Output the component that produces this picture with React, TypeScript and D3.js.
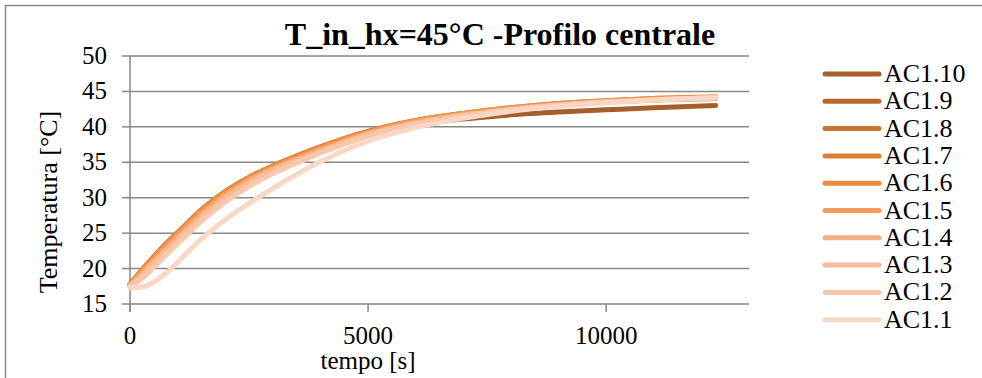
import React from 'react';
import * as d3 from 'd3';

// tempo [s]
const times = [0, 250, 500, 750, 1000, 1500, 2000, 2500, 3000, 3500, 4000, 5000, 6000, 7000, 8000, 9000, 10000, 11000, 12300];

// Temperature [°C] per sensor
const ac110 = [17.6, 19.5, 21.4, 23.1, 24.7, 27.9, 30.5, 32.5, 34.1, 35.5, 36.8, 38.9, 40.3, 41.1, 41.7, 42.1, 42.4, 42.7, 43.0];
const ac19 = [17.7, 19.6, 21.5, 23.3, 24.9, 28.1, 30.7, 32.7, 34.3, 35.7, 37.0, 39.2, 40.7, 41.7, 42.5, 43.1, 43.5, 43.8, 44.0];
const ac18 = [17.7, 19.7, 21.6, 23.4, 25.0, 28.2, 30.8, 32.8, 34.4, 35.8, 37.1, 39.3, 40.8, 41.8, 42.6, 43.2, 43.6, 43.9, 44.1];
const ac17 = [17.8, 19.8, 21.7, 23.5, 25.1, 28.3, 30.9, 32.9, 34.5, 35.9, 37.2, 39.4, 40.9, 41.9, 42.7, 43.3, 43.7, 44.0, 44.2];
const ac16 = [17.8, 19.7, 21.6, 23.4, 25.0, 28.2, 30.8, 32.8, 34.4, 35.8, 37.1, 39.3, 40.9, 41.9, 42.7, 43.3, 43.7, 44.0, 44.2];
const ac15 = [17.7, 19.5, 21.3, 23.1, 24.7, 27.9, 30.5, 32.6, 34.2, 35.6, 36.9, 39.2, 40.8, 41.8, 42.6, 43.2, 43.6, 43.9, 44.1];
const ac14 = [17.6, 19.2, 21.0, 22.7, 24.3, 27.5, 30.2, 32.3, 34.0, 35.4, 36.7, 39.0, 40.6, 41.7, 42.5, 43.1, 43.5, 43.8, 44.1];
const ac13 = [17.6, 19.0, 20.7, 22.4, 24.0, 27.2, 29.9, 32.1, 33.8, 35.2, 36.5, 38.9, 40.5, 41.6, 42.5, 43.1, 43.5, 43.8, 44.1];
const ac12 = [17.5, 18.6, 20.2, 21.9, 23.5, 26.7, 29.4, 31.6, 33.4, 34.9, 36.3, 38.7, 40.4, 41.5, 42.4, 43.0, 43.5, 43.8, 44.1];
const ac11 = [17.3, 17.4, 18.1, 19.3, 20.9, 24.2, 26.9, 29.2, 31.3, 33.3, 35.1, 38.0, 39.9, 41.2, 42.2, 42.9, 43.4, 43.8, 44.1];

const seriesNames = ['AC1.10', 'AC1.9', 'AC1.8', 'AC1.7', 'AC1.6', 'AC1.5', 'AC1.4', 'AC1.3', 'AC1.2', 'AC1.1'];
const seriesValues = [ac110, ac19, ac18, ac17, ac16, ac15, ac14, ac13, ac12, ac11];
const seriesColors = ['#a65f2a', '#b8682e', '#cb7430', '#de8034', '#ec8a3c', '#f49b5c', '#f6ae84', '#f8bc9a', '#f8c8ad', '#f8d7c5'];

const yTicks = [15, 20, 25, 30, 35, 40, 45, 50];
const xTicks = [0, 5000, 10000];

const W = 982;
const H = 378;
const serif = { fontFamily: "'Liberation Serif', 'DejaVu Serif', serif" };

export default function App() {
  const x = d3.scaleLinear().domain([0, 13000]).range([130, 749]);
  const y = d3.scaleLinear().domain([15, 50]).range([304, 56]);

  const line = d3.line<[number, number]>()
    .x(d => x(d[0]))
    .y(d => y(d[1]))
    .curve(d3.curveMonotoneX);

  const grid = '#878787';

  return (
    <svg width={W} height={H} style={{ position: 'absolute', left: 0, top: 0, background: '#fff' }}>
      {/* outer frame */}
      <path d={`M5.5,${H} V5.5 H${W}`} fill="none" stroke="#8c8c8c" strokeWidth={1.5} />

      {/* title */}
      <text x={500} y={45} textAnchor="middle" style={serif} fontWeight="bold" fontSize={32}>
        T_in_hx=45°C -Profilo centrale
      </text>

      {/* grid lines */}
      {yTicks.map(t => (
        <line key={'g' + t} x1={x(0)} x2={x(13000)} y1={y(t)} y2={y(t)} stroke={grid} strokeWidth={1.5} />
      ))}
      {yTicks.map(t => (
        <line key={'yt' + t} x1={x(0) - 8} x2={x(0)} y1={y(t)} y2={y(t)} stroke={grid} strokeWidth={1.5} />
      ))}
      <line x1={x(0)} x2={x(0)} y1={y(50)} y2={y(15) + 8} stroke={grid} strokeWidth={1.5} />
      {xTicks.map(t => (
        <line key={'xt' + t} x1={x(t)} x2={x(t)} y1={y(15)} y2={y(15) + 8} stroke={grid} strokeWidth={1.5} />
      ))}

      {/* tick labels */}
      {yTicks.map(t => (
        <text key={'yl' + t} x={107} y={y(t) + 8} textAnchor="end" style={serif} fontSize={25}>{t}</text>
      ))}
      {xTicks.map(t => (
        <text key={'xl' + t} x={x(t)} y={344} textAnchor="middle" style={serif} fontSize={25}>{t}</text>
      ))}

      {/* axis titles */}
      <text x={x(5000)} y={369} textAnchor="middle" style={serif} fontSize={25}>tempo [s]</text>
      <text transform={`translate(57,202) rotate(-90)`} textAnchor="middle" style={serif} fontSize={26}>
        Temperatura [°C]
      </text>

      {/* series */}
      {seriesValues.map((vals, i) => (
        <path
          key={seriesNames[i]}
          d={line(times.map((t, j) => [t, vals[j]] as [number, number])) || ''}
          fill="none"
          stroke={seriesColors[i]}
          strokeWidth={5}
          strokeLinecap="round"
          strokeLinejoin="round"
        />
      ))}

      {/* legend */}
      {seriesNames.map((name, i) => {
        const ly = 74 + i * 27.3;
        return (
          <g key={'lg' + name}>
            <line x1={825} x2={879} y1={ly} y2={ly} stroke={seriesColors[i]} strokeWidth={5} strokeLinecap="round" />
            <text x={884} y={ly + 8} style={serif} fontSize={26}>{name}</text>
          </g>
        );
      })}
    </svg>
  );
}
